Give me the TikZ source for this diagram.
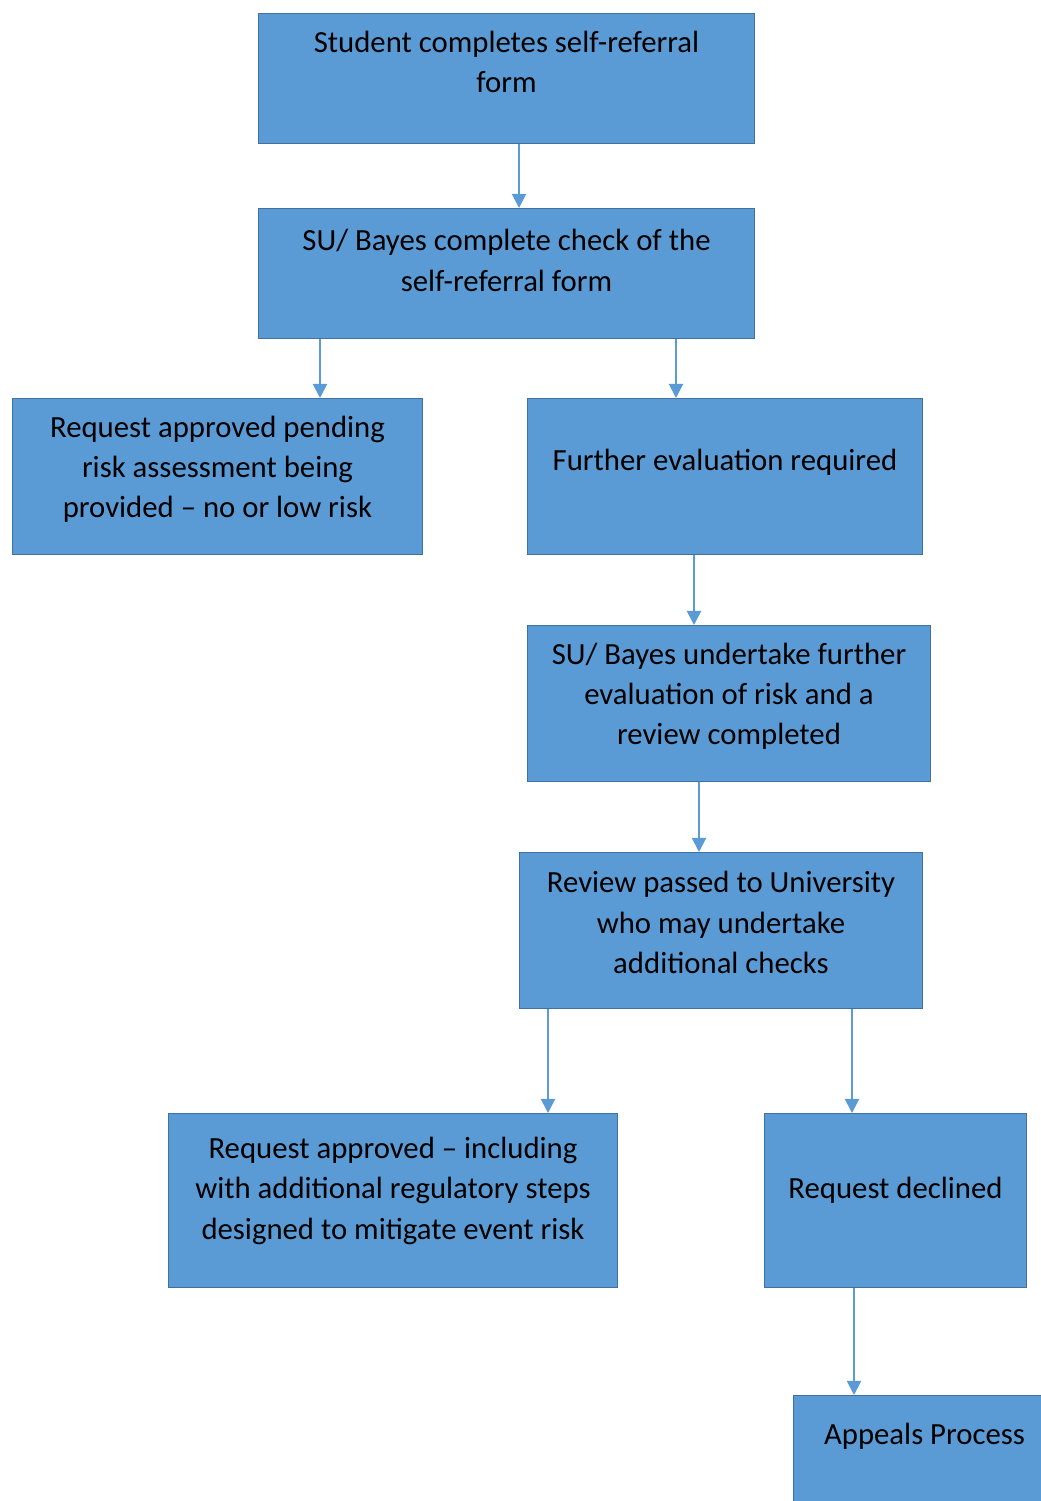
\documentclass[tikz,border=0pt]{standalone}
\usepackage{fontspec}
\setmainfont{Carlito}
\usepackage{tikz}
\usetikzlibrary{arrows.meta}
\definecolor{boxfill}{HTML}{5B9BD5}
\definecolor{boxedge}{HTML}{41719C}

\tikzset{
  box/.style={draw=boxedge, fill=boxfill, line width=0.6pt, anchor=north west,
    align=center, inner sep=0pt, font=\fontsize{17.5}{23}\selectfont},
  lift/.style={text depth=#1},
  flow/.style={-{Triangle[length=8pt,width=8pt]}, boxfill, line width=1.1pt},
}

\begin{document}
\begin{tikzpicture}[x=0.02cm, y=-0.02cm]
\useasboundingbox (0,0) rectangle (1041,1501);

% ---------------------------------------------------------------- boxes
\node[box, minimum width=9.92cm, minimum height=2.6cm, lift=19pt] (b1) at (258,13)
  {Student completes self-referral\\form};
\node[box, minimum width=9.92cm, minimum height=2.6cm, lift=15pt] (b2) at (258,208)
  {SU/ Bayes complete check of the\\self-referral form};
\node[box, minimum width=8.2cm, minimum height=3.12cm, lift=11pt] (b3) at (12,398)
  {Request approved pending\\risk assessment being\\provided -- no or low risk};
\node[box, minimum width=7.9cm, minimum height=3.12cm, lift=19pt] (b4) at (527,398)
  {Further evaluation required};
\node[box, minimum width=8.06cm, minimum height=3.12cm, lift=11pt] (b5) at (527,625)
  {SU/ Bayes undertake further\\evaluation of risk and a\\review completed};
\node[box, minimum width=8.06cm, minimum height=3.12cm, lift=9pt] (b6) at (519,852)
  {Review passed to University\\who may undertake\\additional checks};
\node[box, minimum width=8.98cm, minimum height=3.48cm, lift=14pt] (b7) at (168,1113)
  {Request approved -- including\\with additional regulatory steps\\designed to mitigate event risk};
\node[box, minimum width=5.24cm, minimum height=3.48cm, lift=15pt] (b8) at (764,1113)
  {Request declined};
\node[box, minimum width=5.24cm, minimum height=3.48cm, lift=55pt] (b9) at (793,1395)
  {Appeals Process};

% ---------------------------------------------------------------- arrows
\foreach \a/\b/\x in {b1/b2/519, b2/b3/320, b2/b4/676, b4/b5/694,
                      b5/b6/699, b6/b7/548, b6/b8/852, b8/b9/854}
  \draw[flow] (\a.south -| \x,0) -- (\b.north -| \x,0);

\end{tikzpicture}
\end{document}
